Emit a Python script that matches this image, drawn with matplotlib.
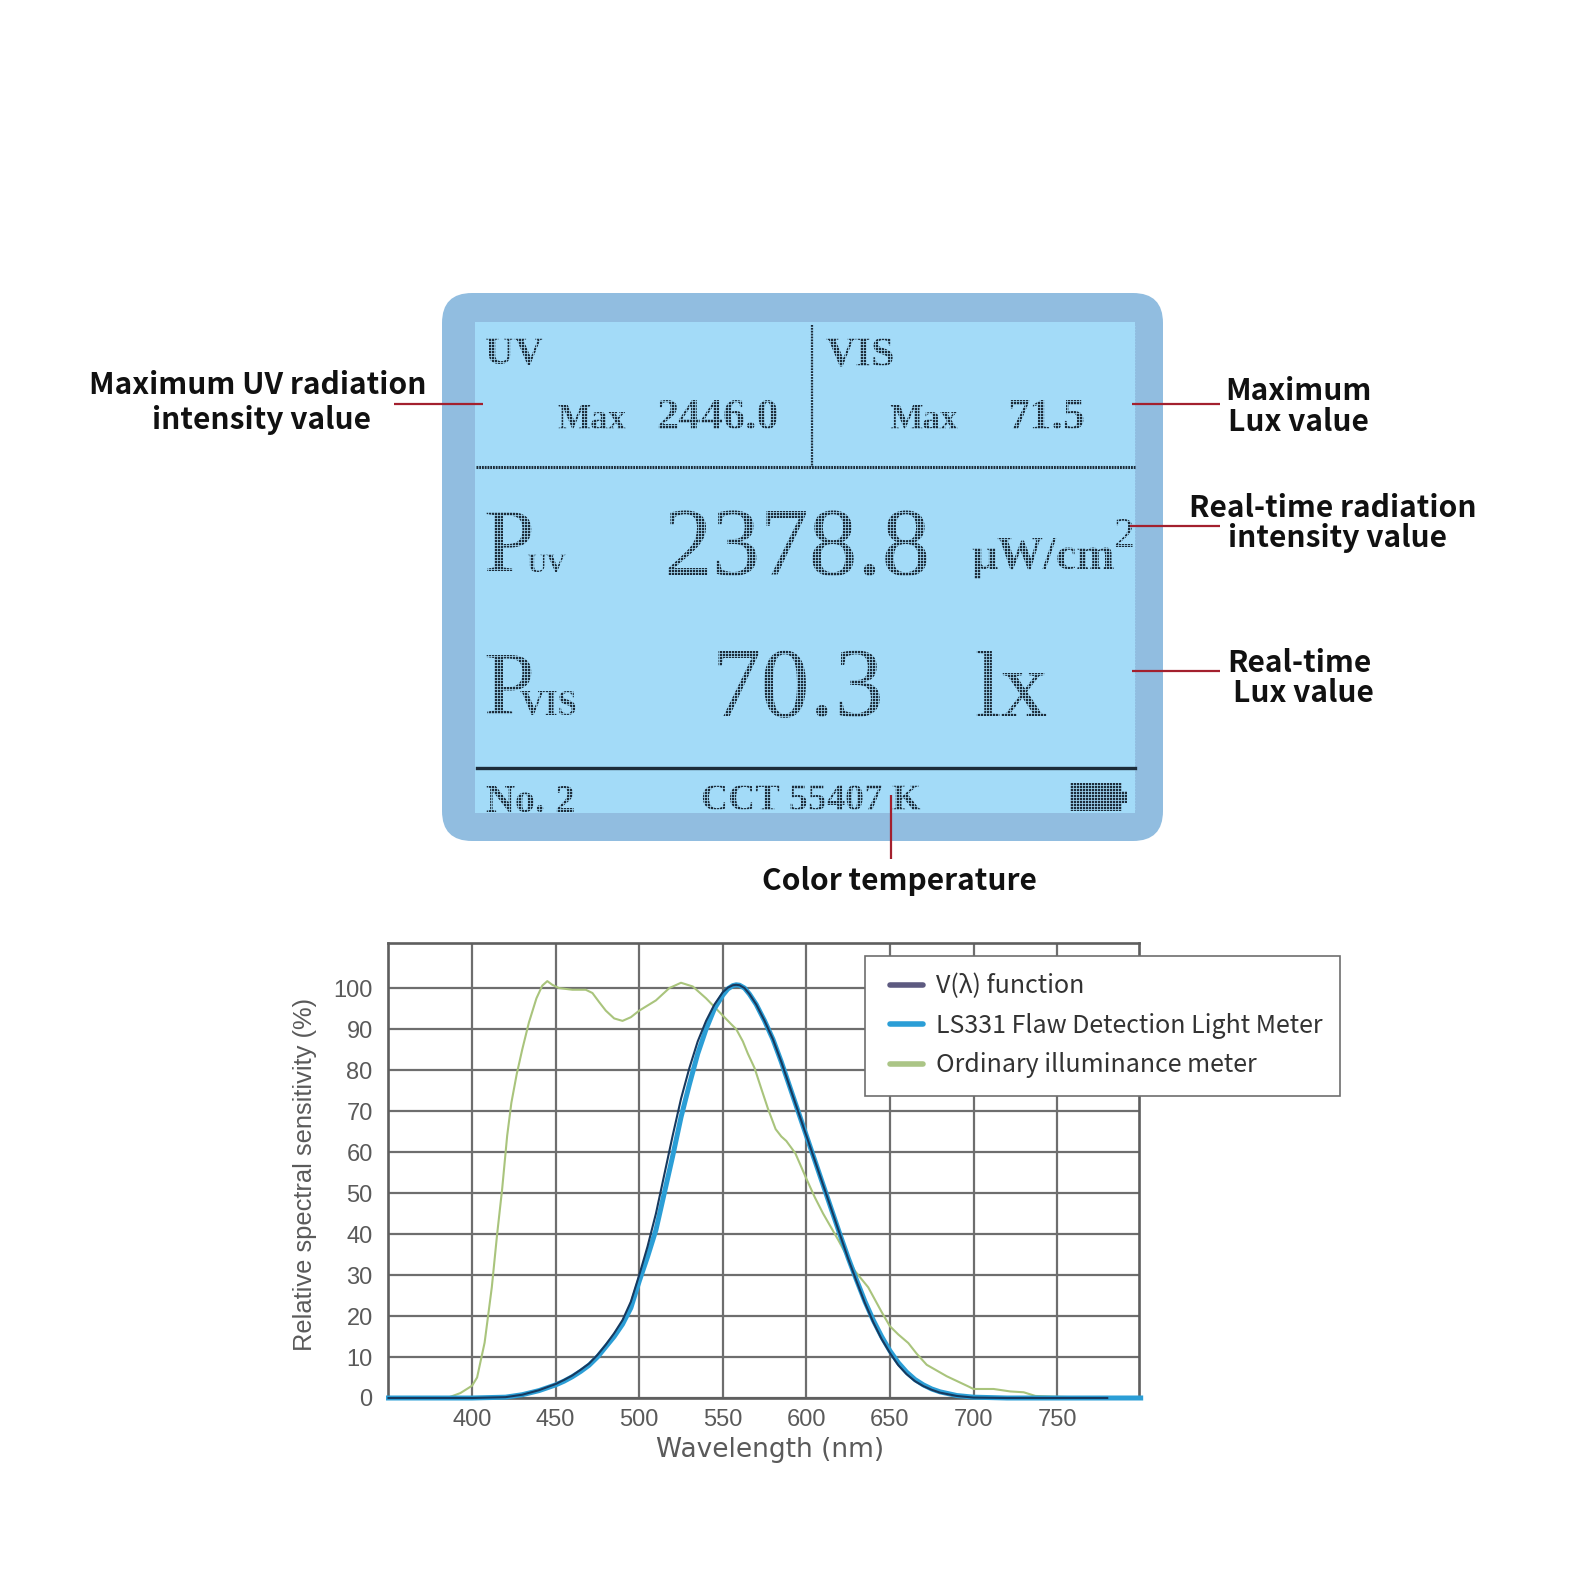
import matplotlib
matplotlib.use('Agg')
import numpy as np
import matplotlib.pyplot as plt
from matplotlib.legend_handler import HandlerLine2D
from matplotlib.patches import FancyBboxPatch, Rectangle
from matplotlib.collections import LineCollection

# spectral curves
wl_ordinary = [350, 385, 393, 400, 403, 407.5, 411.8, 415, 418, 421, 423.5, 426.7, 430, 434, 438.5, 442, 445, 448, 452,
               460, 468, 472, 476, 480, 485, 490, 495, 500, 510, 518, 525, 532, 540, 550, 555, 558, 562, 565, 569,
               573, 577, 581.6, 585, 588, 593.4, 600, 605, 610, 619, 629, 637, 645, 650, 655, 661, 666, 672, 684,
               697, 700, 712, 722, 730, 737, 750, 780]
val_ordinary = [0, 0, 1.2, 3, 5, 13.5, 27, 40, 51, 64, 72, 79, 85, 91.6, 97.5, 100.6, 101.7, 100.8, 100,
                99.6, 99.6, 98.8, 96.6, 94.5, 92.6, 92, 92.9, 94.5, 97, 100, 101.3, 100.4, 97.5, 93.3, 91.2, 90, 87, 84, 80.5,
                75.5, 70.6, 65.6, 63.8, 62.7, 59.7, 53.5, 49, 45, 38.6, 31, 27, 21, 17.5, 15.5, 13.4, 10.8, 8.1, 5.3,
                2.8, 2.2, 2.2, 1.6, 1.4, 0.5, 0.3, 0]

wl_ls331 = [350, 400, 420, 430, 440, 450, 455, 460, 465, 470, 475, 480, 485, 490, 495, 500, 505, 510, 515, 520, 525,
            530, 535, 540, 545, 550, 553, 556, 558, 560, 563, 566, 570, 575, 580, 585, 590, 595, 600, 605, 610, 615,
            620, 625, 630, 635, 640, 645, 650, 655, 660, 665, 670, 675, 680, 690, 700, 720, 800]
val_ls331 = [0, 0, 0.2, 0.8, 1.8, 3.2, 4.1, 5.2, 6.5, 8, 10, 12.5, 15, 18, 22, 28.5, 34.5, 41, 50, 59, 68.5,
             76.5, 84, 90, 95, 98.3, 99.8, 100.6, 100.8, 100.7, 100, 98.5, 96, 92, 87.5, 82, 76, 70, 64, 58, 52, 46,
             40, 34.2, 28.8, 23.6, 19, 15, 11.5, 8.6, 6.3, 4.5, 3.2, 2.2, 1.5, 0.6, 0.2, 0, 0]

wl_vlambda = [350, 400, 420, 430, 440, 450, 455, 460, 465, 470, 475, 480, 485, 490, 495, 500, 505, 510, 515, 520, 525,
              530, 535, 540, 545, 550, 553, 556, 558, 560, 563, 566, 570, 575, 580, 585, 590, 595, 600, 605, 610, 615,
              620, 625, 630, 635, 640, 645, 650, 655, 660, 665, 670, 675, 680, 690, 700, 720, 780]
val_vlambda = [0, 0, 0.2, 0.8, 1.9, 3.4, 4.4, 5.5, 6.9, 8.4, 10.5, 13, 15.8, 19, 23.5, 30, 37, 45, 54.5, 64, 73,
               80.5, 87, 92, 96, 99, 100.1, 100.7, 100.8, 100.7, 100, 98.5, 96, 92, 87.5, 82, 76, 70, 64, 58, 52, 46,
               40, 34, 28.5, 23.2, 18.5, 14.4, 11, 8, 5.8, 4.1, 2.9, 2, 1.3, 0.5, 0.1, 0, 0]

x_ticks = [400, 450, 500, 550, 600, 650, 700, 750]
y_ticks = [0, 10, 20, 30, 40, 50, 60, 70, 80, 90, 100]
legend_labels = ['V(λ) function', 'LS331 Flaw Detection Light Meter', 'Ordinary illuminance meter']

W = H = 1569
fig = plt.figure(figsize=(W / 100, H / 100), dpi=100, facecolor='white')

# overlay in pixel coordinates for the display panel and callouts
bg = fig.add_axes([0, 0, 1, 1])
bg.set_xlim(0, W)
bg.set_ylim(H, 0)
bg.axis('off')

bg.add_patch(FancyBboxPatch((442, 293), 721, 548, boxstyle='round,pad=0,rounding_size=30', fc='#91bde0', ec='none'))
lcd_bg = '#a3dbf8'
bg.add_patch(Rectangle((475, 322), 660, 491, fc=lcd_bg, ec='none'))

ink = '#1c2c3a'
serif = 'Liberation Serif'


def lcd(x, y, s, size, weight='normal'):
    bg.text(x, y, s, fontsize=size, family=serif, weight=weight, color=ink, ha='left', va='baseline', zorder=3)


lcd(485, 364, 'UV', 29, 'bold')
lcd(825, 366, 'VIS', 30, 'bold')
lcd(557, 429, 'Max', 25.5, 'bold')
lcd(656, 429, '2446.0', 32, 'bold')
lcd(889, 429, 'Max', 25.5, 'bold')
lcd(1007, 429, '71.5', 32, 'bold')
lcd(483, 572, 'P', 66)
lcd(526, 572, 'UV', 20, 'bold')
lcd(664, 575, '2378.8', 70)
lcd(971, 569, 'μW/cm', 33, 'bold')
lcd(1113, 547, '2', 30)
lcd(483, 715, 'P', 66)
lcd(520, 715, 'VIS', 25, 'bold')
lcd(711, 716, '70.3', 71)
lcd(974, 716, 'lx', 68)
lcd(486, 812, 'No. 2', 29, 'bold')
lcd(701, 810, 'CCT 55407 K', 27, 'bold')

bg.add_patch(Rectangle((1070, 783), 52, 28, fc=ink, ec='none', zorder=3))
bg.add_patch(Rectangle((1122, 791), 5, 12, fc=ink, ec='none', zorder=3))

# knock the text into dots
segs = [[(x, 326), (x, 812)] for x in np.arange(476, 1135, 3.0)]
segs += [[(476, y), (1135, y)] for y in np.arange(326, 812, 3.0)]
bg.add_collection(LineCollection(segs, colors=lcd_bg, linewidths=0.55, zorder=4))

bg.plot([476, 1135], [467, 467], color=ink, lw=2.2, ls=(0, (0.6, 0.3)), zorder=5)
bg.plot([477, 1135], [768, 768], color=ink, lw=2.4, zorder=5)
bg.plot([812, 812], [325, 467], color=ink, lw=1.6, ls=(0, (0.8, 0.5)), zorder=5)

red = '#a3202e'
for xs, ys in [((394, 483), (404, 404)), ((1132, 1220), (404, 404)), ((1130, 1220), (526, 526)),
               ((1132, 1220), (671, 671)), ((891, 891), (795, 859))]:
    bg.plot(xs, ys, color=red, lw=1.6, zorder=6, solid_capstyle='butt')

cjk = ['Noto Sans CJK SC', 'DejaVu Sans']


def callout(x, y, s):
    bg.text(x, y + 3, s, fontsize=21.6, family=cjk, weight='bold', color='#111111', ha='center', va='center', zorder=6)


callout(258, 382, 'Maximum UV radiation')
callout(261, 417, 'intensity value')
callout(1298, 388, 'Maximum')
callout(1298, 419, 'Lux value')
callout(1333, 505, 'Real-time radiation')
callout(1337, 535, 'intensity value')
callout(1299, 660, 'Real-time')
callout(1303, 690, 'Lux value')
callout(899, 878, 'Color temperature')

# sensitivity chart
ax = fig.add_axes([388 / W, 1 - 1398 / H, (1139 - 388) / W, (1398 - 943) / H])
ax.patch.set_alpha(0)
ax.set_xlim(349.7, 799)
ax.set_ylim(0, 111)

grid_c = '#6e6e6e'
ax.set_xticks(x_ticks)
ax.set_yticks(y_ticks)
ax.set_xticklabels([str(v) for v in x_ticks])
ax.set_yticklabels([str(v) for v in y_ticks])
ax.grid(True, color=grid_c, lw=1.6)
ax.set_axisbelow(True)
ax.tick_params(length=0, labelcolor='#5a5a5a', labelsize=17)
ax.tick_params(axis='x', pad=8)
ax.tick_params(axis='y', pad=11)
for t in ax.get_xticklabels() + ax.get_yticklabels():
    t.set_family('Liberation Sans')
for s in ax.spines.values():
    s.set_color('#5e5e5e')
    s.set_linewidth(1.9)

ax.plot(wl_ordinary, val_ordinary, color='#a9c47c', lw=1.5, clip_on=False, zorder=3)
ax.plot(wl_ls331, val_ls331, color='#2b9ed6', lw=3.6, clip_on=False, zorder=4)
ax.plot(wl_vlambda, val_vlambda, color='#17395e', lw=1.5, clip_on=False, zorder=5)

ax.set_ylabel('Relative spectral sensitivity (%)', family='Liberation Sans', fontsize=18.4, color='#5a5a5a')
ax.yaxis.set_label_coords(-0.094, 0.492)
ax.set_xlabel('Wavelength (nm)', family='DejaVu Sans', fontsize=19, color='#5a5a5a')
ax.xaxis.set_label_coords(0.509, -0.086)

handles = [plt.Line2D([], [], color=c, lw=4, solid_capstyle='round') for c in ['#5d5a80', '#2b9ed6', '#abc586']]
leg = ax.legend(handles, legend_labels, loc='upper left',
                bbox_to_anchor=((865 - 388) / (1139 - 388), 1 - (956 - 943) / (1398 - 943)),
                borderaxespad=0, frameon=True, fancybox=False, framealpha=1, edgecolor='#6e6e6e',
                prop={'family': cjk, 'size': 18}, labelcolor='#333333',
                handlelength=1.6, handletextpad=0.52, labelspacing=0.54, borderpad=0.7,
                handler_map={plt.Line2D: HandlerLine2D(xpad=0.3)})
leg.get_frame().set_linewidth(1.2)
leg.set_zorder(10)

fig.savefig('out.png', dpi=100)
